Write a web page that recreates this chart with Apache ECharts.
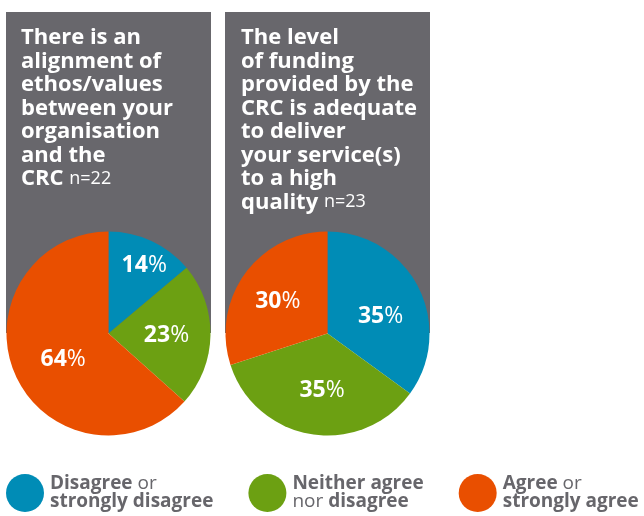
<!DOCTYPE html>
<html>
<head>
<meta charset="utf-8">
<script src="https://cdn.jsdelivr.net/npm/echarts@6/dist/echarts.min.js"></script>
<style>
  html, body { margin: 0; padding: 0; background: #fff; }
  #chart { width: 644px; height: 516px; }
</style>
</head>
<body>
<div id="chart"></div>
<script>
const categories = ['Disagree or strongly disagree', 'Neither agree nor disagree', 'Agree or strongly agree']
const legendLabels = [
  '{b|Disagree} or\n{b|strongly disagree}',
  '{b|Neither agree}\nnor {b|disagree}',
  '{b|Agree} or\n{b|strongly agree}'
]
const alignmentValues = [14, 23, 64]
const fundingValues = [35, 35, 30]
const titleAlignment = 'There is an\nalignment of\nethos/values\nbetween your\norganisation\nand the\nCRC {n|n=22}'
const titleFunding = 'The level\nof funding\nprovided by the\nCRC is adequate\nto deliver\nyour service(s)\nto a high\nquality {n|n=23}'

const colors = ['#008cb6', '#6ca012', '#e94f00']
const panelGray = '#68676c'
const font = '"Open Sans", sans-serif'

// small nudges so the value labels sit where the original has them
const labelShift = [
  [[13, -19], [4, 1], [4, 4]],
  [[5, 7], [3, 4], [-6, 0]]
]

const myChart = echarts.init(document.getElementById('chart'))

function pieSeries(name, values, center) {
  return {
    name,
    type: 'pie',
    center,
    radius: 102,
    startAngle: 90,
    clockwise: true,
    animation: false,
    avoidLabelOverlap: false,
    silent: true,
    z: 5,
    label: {
      show: true,
      position: 'inside',
      formatter: (p) => `{v|${p.value}}{p|%}`,
      rich: {
        v: { color: '#fff', fontFamily: font, fontWeight: 'bold', fontSize: 23 },
        p: { color: '#fff', fontFamily: font, fontWeight: 'normal', fontSize: 23 }
      }
    },
    labelLine: { show: false },
    labelLayout: (params) => {
      const s = labelShift[params.seriesIndex][params.dataIndex]
      return { dx: s[0], dy: s[1] }
    },
    itemStyle: { borderWidth: 0 },
    data: categories.map((c, i) => ({ name: c, value: values[i], itemStyle: { color: colors[i] } }))
  }
}

const titleStyle = {
  color: '#fff',
  fontFamily: font,
  fontWeight: 'bold',
  fontSize: 22,
  lineHeight: 23.5,
  rich: {
    n: { color: '#fff', fontFamily: font, fontWeight: 'normal', fontSize: 18, lineHeight: 23.5 }
  }
}

const option = {
  backgroundColor: '#fff',
  graphic: [
    { type: 'rect', shape: { x: 6, y: 12, width: 205, height: 321 }, style: { fill: panelGray }, z: 0 },
    { type: 'rect', shape: { x: 225, y: 12, width: 205, height: 321 }, style: { fill: panelGray }, z: 0 }
  ],
  title: [
    { text: titleAlignment, left: 21, top: 26, padding: 0, textStyle: titleStyle },
    { text: titleFunding, left: 241, top: 26, padding: 0, textStyle: titleStyle }
  ],
  legend: {
    left: 6,
    top: 474,
    padding: 0,
    itemWidth: 40,
    itemHeight: 38,
    itemGap: 35,
    icon: 'circle',
    selectedMode: false,
    data: categories,
    formatter: (name) => legendLabels[categories.indexOf(name)],
    textStyle: {
      color: '#67666b',
      fontFamily: font,
      fontSize: 19,
      lineHeight: 18,
      rich: {
        b: { color: '#67666b', fontFamily: font, fontWeight: 'bold', fontSize: 19, lineHeight: 18 }
      }
    }
  },
  series: [
    pieSeries('alignment', alignmentValues, [108.5, 333.5]),
    pieSeries('funding', fundingValues, [327.5, 333.5])
  ]
}

myChart.setOption(option)
</script>
</body>
</html>
